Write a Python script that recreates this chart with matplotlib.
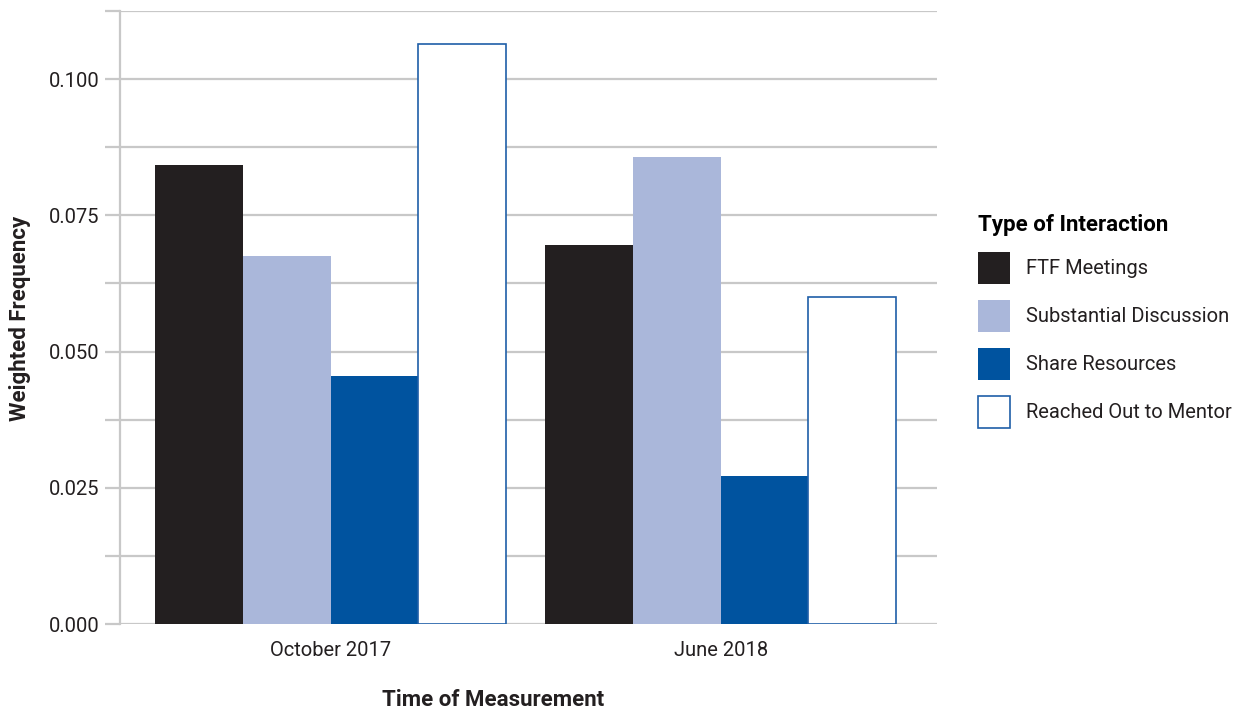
import matplotlib.pyplot as plt
import numpy as np
from matplotlib.patches import Patch

plt.rcParams['font.family'] = ['Liberation Sans Narrow', 'Roboto', 'DejaVu Sans']

times = ["October 2017", "June 2018"]
series = ["FTF Meetings", "Substantial Discussion", "Share Resources", "Reached Out to Mentor"]
ftf = [0.0843, 0.0695]
substantial = [0.0675, 0.0857]
share = [0.0455, 0.0272]
reached = [0.1065, 0.0600]

values = [ftf, substantial, share, reached]
faces = ["#231f20", "#aab7da", "#00539f", "white"]
edges = ["#231f20", "#aab7da", "#00539f", "#1f5fa8"]

fig = plt.figure(figsize=(12.38, 7.10), dpi=100)
ax = fig.add_axes([120/1238, 1-624/710, 817/1238, 613/710])

x = np.arange(len(times))
w = 0.225
for i, vals in enumerate(values):
    ax.bar(x + (i - 1.5)*w, vals, w, color=faces[i], edgecolor=edges[i],
           linewidth=1.2 if i == 3 else 0, zorder=3)

ax.set_xlim(-0.54, 1.555)
ax.set_ylim(0, 0.1125)
ticks = np.arange(0, 0.1126, 0.0125)
ax.set_yticks(ticks)
ax.set_yticklabels(["%.3f" % v if i % 2 == 0 else "" for i, v in enumerate(ticks)])
ax.set_xticks(x)
ax.set_xticklabels(times)
ax.grid(axis='y', color="#c8c8c8", linewidth=1.6, zorder=0)
for s in ['top', 'right', 'bottom']:
    ax.spines[s].set_visible(False)
ax.spines['left'].set_color("#c8c8c8")
ax.spines['left'].set_linewidth(1.6)
ax.tick_params(axis='y', length=11, width=1.6, color="#c8c8c8", labelsize=14.5, labelcolor="#231f20", pad=4)
ax.tick_params(axis='x', length=0, labelsize=14.5, labelcolor="#231f20", pad=12)

fig.text(493/1238, 1-700/710, "Time of Measurement", ha='center', va='center',
         fontsize=16, fontweight='bold', color="#231f20")
fig.text(20/1238, 1-318/710, "Weighted Frequency", ha='center', va='center', rotation=90,
         fontsize=16, fontweight='bold', color="#231f20")

handles = [Patch(facecolor=faces[i], edgecolor=edges[i], linewidth=1.2 if i == 3 else 0, label=series[i])
           for i in range(4)]
leg = fig.legend(handles=handles, loc='upper left', bbox_to_anchor=(960/1238, 1-196/710),
                 frameon=False, fontsize=14.5, title="Type of Interaction",
                 title_fontproperties={'weight': 'bold', 'size': 16},
                 handlelength=1.6, handleheight=2.05, labelspacing=0.8, handletextpad=0.8)
leg._legend_box.align = "left"
for t in leg.get_texts():
    t.set_color("#231f20")

fig.savefig("out.png", dpi=100)
